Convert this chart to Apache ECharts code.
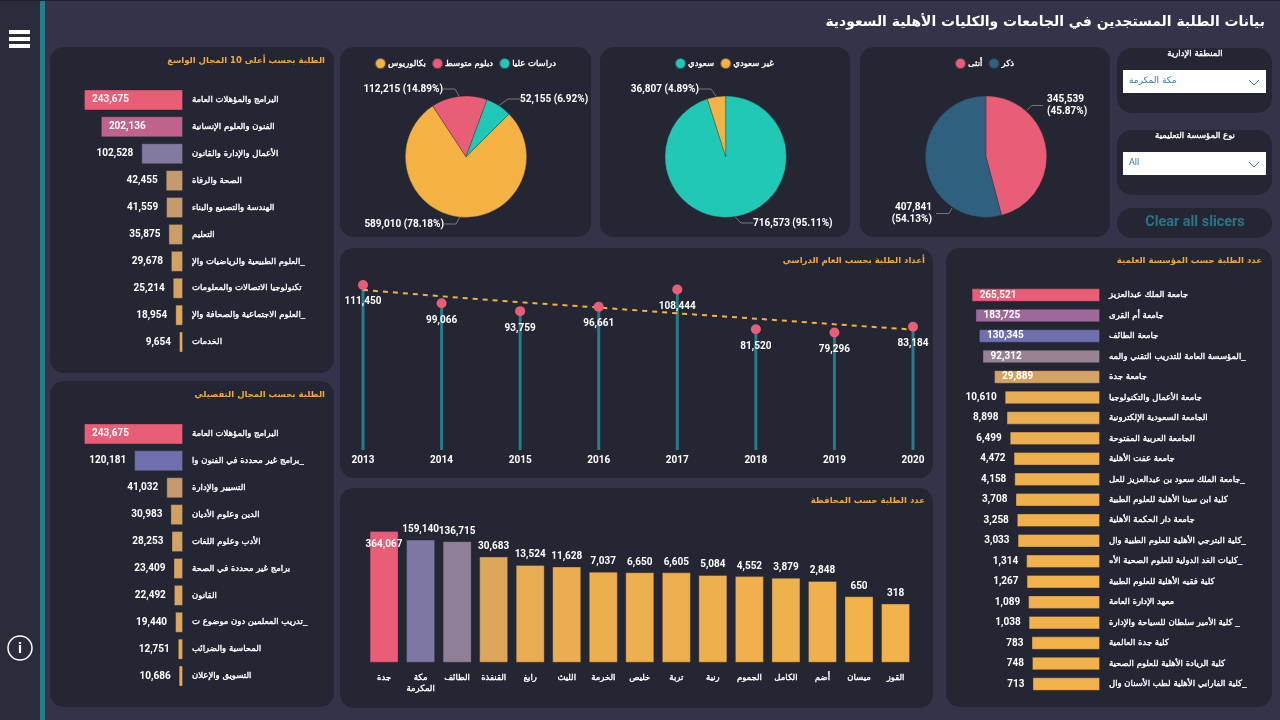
<!DOCTYPE html>
<html>
<head>
<meta charset="utf-8">
<title>بيانات الطلبة المستجدين</title>
<script src="https://cdn.jsdelivr.net/npm/echarts@6/dist/echarts.min.js"></script>
<style>
  html, body { margin: 0; padding: 0; background: #33344a; }
  #main { width: 1280px; height: 720px; }
</style>
</head>
<body>
<div id="main"></div>
<script>
// broad field
var broadNames = ['البرامج والمؤهلات العامة', 'الفنون والعلوم الإنسانية', 'الأعمال والإدارة والقانون', 'الصحة والرفاة', 'الهندسة والتصنيع والبناء', 'التعليم', 'العلوم الطبيعية والرياضيات والإ_', 'تكنولوجيا الاتصالات والمعلومات', 'العلوم الاجتماعية والصحافة والإ_', 'الخدمات'];
var broadValues = [243675, 202136, 102528, 42455, 41559, 35875, 29678, 25214, 18954, 9654];

// detailed field
var detailNames = ['البرامج والمؤهلات العامة', 'برامج غير محددة في الفنون وا_', 'التسيير والإدارة', 'الدين وعلوم الأديان', 'الأدب وعلوم اللغات', 'برامج غير محددة في الصحة', 'القانون', 'تدريب المعلمين دون موضوع ت_', 'المحاسبة والضرائب', 'التسويق والإعلان'];
var detailValues = [243675, 120181, 41032, 30983, 28253, 23409, 22492, 19440, 12751, 10686];

// institutions
var uniNames = ['جامعة الملك عبدالعزيز', 'جامعة أم القرى', 'جامعة الطائف', 'المؤسسة العامة للتدريب التقني والمه_', 'جامعة جدة', 'جامعة الأعمال والتكنولوجيا', 'الجامعة السعودية الإلكترونية', 'الجامعة العربية المفتوحة', 'جامعة عفت الأهلية', 'جامعة الملك سعود بن عبدالعزيز للعل_', 'كلية ابن سينا الأهلية للعلوم الطبية', 'جامعة دار الحكمة الأهلية', 'كلية البترجي الأهلية للعلوم الطبية وال_', 'كليات الغد الدولية للعلوم الصحية الأه_', 'كلية فقيه الأهلية للعلوم الطبية', 'معهد الإدارة العامة', 'كلية الأمير سلطان للسياحة والإدارة _', 'كلية جدة العالمية', 'كلية الريادة الأهلية للعلوم الصحية', 'كلية الفارابي الأهلية لطب الأسنان وال_'];
var uniValues = [265521, 183725, 130345, 92312, 29889, 10610, 8898, 6499, 4472, 4158, 3708, 3258, 3033, 1314, 1267, 1089, 1038, 783, 748, 713];

// governorates
var govNames = ['جدة', 'مكة المكرمة', 'الطائف', 'القنفذة', 'رابغ', 'الليث', 'الخرمة', 'خليص', 'تربة', 'رنية', 'الجموم', 'الكامل', 'أضم', 'ميسان', 'القوز'];
var govValues = [364067, 159140, 136715, 30683, 13524, 11628, 7037, 6650, 6605, 5084, 4552, 3879, 2848, 650, 318];

// academic years
var years = ['2013', '2014', '2015', '2016', '2017', '2018', '2019', '2020'];
var yearValues = [111450, 99066, 93759, 96661, 108444, 81520, 79296, 83184];
var trendValues = [108100, 103800, 99800, 96200, 92300, 88700, 84900, 81300];

// pies
var levelNames = ['بكالوريوس', 'دبلوم متوسط', 'دراسات عليا'];
var levelValues = [589010, 112215, 52155];
var nationNames = ['سعودي', 'غير سعودي'];
var nationValues = [716573, 36807];
var genderNames = ['أنثى', 'ذكر'];
var genderValues = [345539, 407841];

var RED = '#e95d77', ORANGE = '#f4b243', TEAL = '#1fc9b5', BLUE = '#2f6080';
var AR_FONT = '"DejaVu Sans", sans-serif';
var NUM_FONT = 'Roboto, sans-serif';

// regular Arabic face thickened a little with a stroke, the bold one runs too wide
var arText = { color: '#fff', fontFamily: AR_FONT, fontWeight: 'normal', fontSize: 8.5, textBorderColor: '#fff', textBorderWidth: 0.35 };

function fmt(v) { return Number(v).toLocaleString('en-US'); }

// conditional colour: orange -> blue-purple -> red by share of the largest value
function shade(v, max) {
  var a = [242, 178, 74], b = [111, 111, 176], c = [233, 93, 119];
  var t = v / max, p = t < 0.5 ? a : b, q = t < 0.5 ? b : c;
  var k = t < 0.5 ? t * 2 : (t - 0.5) * 2;
  return 'rgb(' + [0, 1, 2].map(function (i) { return Math.round(p[i] + (q[i] - p[i]) * k); }).join(',') + ')';
}

function barData(values, insideFrom) {
  return values.map(function (v) {
    var item = { value: v, itemStyle: { color: shade(v, values[0]) } };
    if (v >= insideFrom) item.label = { position: 'insideLeft', distance: 8 };
    return item;
  });
}

function hbar(idx, values, insideFrom, barWidth) {
  return {
    type: 'bar', xAxisIndex: idx, yAxisIndex: idx, barWidth: barWidth,
    data: barData(values, insideFrom), silent: true,
    itemStyle: { borderColor: 'rgba(40,40,50,0.35)', borderWidth: 1 },
    label: { show: true, position: 'left', distance: 8, color: '#fff', fontFamily: NUM_FONT, fontWeight: 'bold', fontSize: 10,
      formatter: function (p) { return fmt(p.value); } }
  };
}

function hidden(extra) {
  return Object.assign({ axisLine: { show: false }, axisTick: { show: false }, axisLabel: { show: false }, splitLine: { show: false } }, extra);
}

function catY(idx, names, margin) {
  return {
    type: 'category', gridIndex: idx, data: names, inverse: true, position: 'right',
    axisLine: { show: false, onZero: false }, axisTick: { show: false }, splitLine: { show: false },
    axisLabel: Object.assign({ interval: 0, align: 'left', margin: margin }, arText)
  };
}

function pie(center, names, values, colors, startAngle, spots, twoLine) {
  var total = values.reduce(function (s, v) { return s + v; }, 0);
  return {
    type: 'pie', center: center, radius: [0, 60.7], startAngle: startAngle, clockwise: true, silent: true,
    data: names.map(function (n, i) { return { name: n, value: values[i], itemStyle: { color: colors[i] } }; }),
    itemStyle: { borderColor: 'rgba(37,38,51,0.6)', borderWidth: 0.5 },
    label: { color: '#fff', fontFamily: NUM_FONT, fontWeight: 'bold', fontSize: 10, lineHeight: 12,
      formatter: function (p) { return fmt(p.value) + (twoLine ? '\n' : ' ') + '(' + (p.value / total * 100).toFixed(2) + '%)'; } },
    labelLine: { show: !twoLine, length: 9, length2: 12, lineStyle: { color: '#77777f', width: 1 } },
    labelLayout: function (p) {
      var s = spots[p.dataIndex];
      return { x: s[0], y: s[1], align: s[2], verticalAlign: 'middle' };
    }
  };
}

function legend(left, names) {
  return {
    left: left, top: 52, data: names, icon: 'circle', itemWidth: 11, itemHeight: 11, itemGap: 5, selectedMode: false,
    textStyle: Object.assign({ padding: [0, 0, 0, -3] }, arText)
  };
}

function title(text, right, top, size, color) {
  return { text: text, right: 1280 - right, top: top, padding: 0,
    textStyle: { color: color || '#f0a93a', fontFamily: AR_FONT, fontWeight: 'bold', fontSize: size || 8.5 } };
}

function panel(x, y, w, h, r) {
  return { type: 'rect', shape: { x: x, y: y, width: w, height: h, r: r || 14 }, style: { fill: '#252633' } };
}

function label(text, x, y, align, color, size, font, weight) {
  return { type: 'text', x: x, y: y, style: { text: text, align: align, verticalAlign: 'middle', fill: color || '#fff',
    stroke: color ? null : '#fff', lineWidth: color ? 0 : 0.35,
    font: (weight || 'normal') + ' ' + (size || 8.5) + 'px ' + (font || AR_FONT) } };
}

function leader(points) {
  return { type: 'polyline', shape: { points: points }, style: { stroke: '#77777f', lineWidth: 1, fill: 'none' } };
}

function slicer(y, heading, value, valueFont) {
  return [
    panel(1117, y, 155, 65, 15),
    label(heading, 1195, y + 6, 'center'),
    { type: 'rect', shape: { x: 1123, y: y + 22, width: 143, height: 23 }, style: { fill: '#fff' } },
    label(value, 1129, y + 33, 'left', '#2b8296', 9, valueFont),
    { type: 'polyline', shape: { points: [[1249, y + 32], [1254, y + 37], [1259, y + 32]] }, style: { stroke: '#2b8296', lineWidth: 1, fill: 'none' } }
  ];
}

var chrome = [
  { type: 'rect', shape: { x: 0, y: 0, width: 40, height: 720 }, style: { fill: '#2a2b3b' } },
  { type: 'rect', shape: { x: 40, y: 0, width: 5, height: 720 }, style: { fill: '#257c8a' } },
  { type: 'rect', shape: { x: 0, y: 0, width: 1280, height: 1 }, style: { fill: '#20212c' } },
  { type: 'rect', shape: { x: 9, y: 30, width: 21, height: 4 }, style: { fill: '#fff' } },
  { type: 'rect', shape: { x: 9, y: 37, width: 21, height: 4 }, style: { fill: '#fff' } },
  { type: 'rect', shape: { x: 9, y: 44, width: 21, height: 4 }, style: { fill: '#fff' } },
  { type: 'circle', shape: { cx: 20, cy: 648, r: 12 }, style: { stroke: '#fff', lineWidth: 1.5, fill: 'none' } },
  label('i', 20, 649, 'center', '#ffffff', 15, NUM_FONT, 'bold'),
  panel(50, 47, 284, 326),
  panel(50, 381, 284, 326),
  panel(340, 47, 251, 190),
  panel(600, 47, 250, 190),
  panel(860, 47, 250, 190),
  panel(340, 248, 593, 230),
  panel(340, 488, 593, 220),
  panel(946, 248, 326, 459),
  panel(1117, 208, 155, 30, 15),
  label('Clear all slicers', 1195, 222, 'center', '#2b7488', 14.4, NUM_FONT, 'bold'),
  // the gender pie's leader lines leave the arc away from the slice middle
  leader([[1027, 110], [1032, 105.5], [1043, 105.5]]),
  leader([[952, 208], [949, 213.5], [936, 213.5]])
].concat(slicer(48, 'المنطقة الإدارية', 'مكة المكرمة', AR_FONT), slicer(130, 'نوع المؤسسة التعليمية', 'All', NUM_FONT));

var option = {
  backgroundColor: '#33344a',
  animation: false,
  graphic: chrome,
  title: [
    title('بيانات الطلبة المستجدين في الجامعات والكليات الأهلية السعودية', 1265, 15, 13.9, '#fff'),
    title('الطلبة بحسب أعلى 10 المجال الواسع', 325, 56),
    title('الطلبة بحسب المجال التفصيلي', 325, 390),
    title('عدد الطلبة حسب المؤسسة العلمية', 1262, 256),
    title('أعداد الطلبة بحسب العام الدراسي', 925, 256),
    title('عدد الطلبة حسب المحافظة', 925, 496)
  ],
  legend: [legend(369, levelNames), legend(669, nationNames), legend(949, genderNames)],
  grid: [
    { left: 84, top: 86.5, width: 99, height: 269, outerBoundsMode: 'none' },
    { left: 84, top: 420.5, width: 99, height: 269, outerBoundsMode: 'none' },
    { left: 958, top: 284.8, width: 142, height: 409.5, outerBoundsMode: 'none' },
    { left: 363, top: 272.3, width: 550, height: 177.7, outerBoundsMode: 'none' },
    { left: 365.8, top: 520.7, width: 548, height: 142, outerBoundsMode: 'none' }
  ],
  xAxis: [
    hidden({ type: 'value', gridIndex: 0, inverse: true, min: 0, max: 243675 }),
    hidden({ type: 'value', gridIndex: 1, inverse: true, min: 0, max: 243675 }),
    hidden({ type: 'log', gridIndex: 2, inverse: true, min: 1, max: 1000000 }),
    { type: 'category', gridIndex: 3, data: years, boundaryGap: false, axisLine: { show: false }, axisTick: { show: false },
      axisLabel: { interval: 0, margin: 5, color: '#fff', fontFamily: NUM_FONT, fontWeight: 'bold', fontSize: 10 } },
    { type: 'category', gridIndex: 4, data: govNames, axisLine: { show: false }, axisTick: { show: false },
      axisLabel: Object.assign({ interval: 0, margin: 10, lineHeight: 11,
        formatter: function (v) { return v.replace(' ', '\n'); } }, arText) }
  ],
  yAxis: [
    catY(0, broadNames, 9),
    catY(1, detailNames, 9),
    catY(2, uniNames, 9),
    hidden({ type: 'value', gridIndex: 3, min: 0, max: 120000 }),
    hidden({ type: 'log', gridIndex: 4, min: 1, max: 1000000 })
  ],
  series: [
    hbar(0, broadValues, 200000, 21),
    hbar(1, detailValues, 200000, 21),
    hbar(2, uniValues, 20000, 13.5),
    { type: 'bar', xAxisIndex: 3, yAxisIndex: 3, barWidth: 3, data: yearValues, silent: true, itemStyle: { color: '#257c8a' } },
    { type: 'line', xAxisIndex: 3, yAxisIndex: 3, data: trendValues, symbol: 'none', silent: true, z: 3, lineStyle: { color: ORANGE, width: 2, type: [5, 5] } },
    { type: 'scatter', xAxisIndex: 3, yAxisIndex: 3, data: yearValues, symbolSize: 10, silent: true, z: 4, itemStyle: { color: RED, opacity: 1 },
      label: { show: true, position: 'bottom', distance: 7, color: '#fff', fontFamily: NUM_FONT, fontWeight: 'bold', fontSize: 10,
        formatter: function (p) { return fmt(p.value); } } },
    { type: 'bar', xAxisIndex: 4, yAxisIndex: 4, barWidth: 29, silent: true,
      data: govValues.map(function (v, i) {
        var item = { value: v, itemStyle: { color: shade(v, govValues[0]) } };
        if (i === 0) item.label = { position: 'insideTop', distance: 8 };
        return item;
      }),
      itemStyle: { borderColor: 'rgba(40,40,50,0.35)', borderWidth: 1 },
      label: { show: true, position: 'top', distance: 5, color: '#fff', fontFamily: NUM_FONT, fontWeight: 'bold', fontSize: 10,
        formatter: function (p) { return fmt(p.value); } } },
    pie([466, 156.7], levelNames, levelValues, [ORANGE, RED, TEAL], 44.8,
      [[444, 224, 'right'], [443, 89, 'right'], [520, 99, 'left']]),
    pie([725.7, 156.7], nationNames, nationValues, [TEAL, ORANGE], 90,
      [[753, 223, 'left'], [699, 89, 'right']]),
    pie([986, 156.7], genderNames, genderValues, [RED, BLUE], 90,
      [[1047, 105.5, 'left'], [932, 213, 'right']], true)
  ]
};

echarts.init(document.getElementById('main')).setOption(option);
</script>
</body>
</html>
